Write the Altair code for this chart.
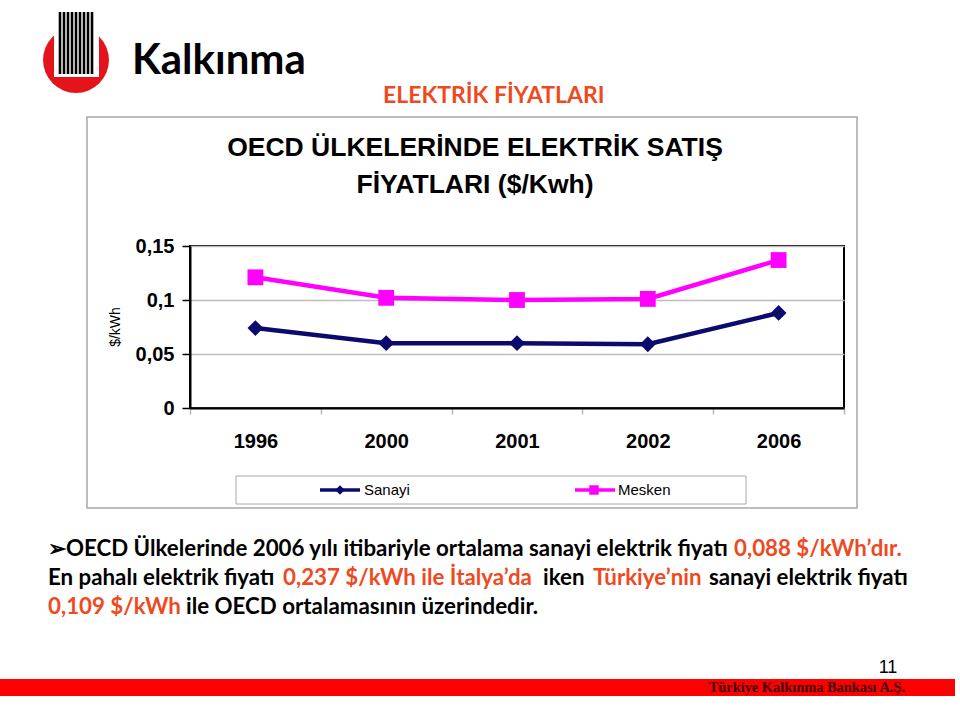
import altair as alt
import pandas as pd

# ---------------- data ----------------
years = ["1996", "2000", "2001", "2002", "2006"]
sanayi = [0.074, 0.060, 0.060, 0.059, 0.088]
mesken = [0.121, 0.102, 0.100, 0.101, 0.137]
series_names = ["Sanayi", "Mesken"]
series_colors = ["#0b0b6e", "#ff00ff"]
series_shapes = ["diamond", "square"]
y_ticks = [0, 0.05, 0.1, 0.15]

chart_title = ["OECD ÜLKELERİNDE ELEKTRİK SATIŞ", "FİYATLARI ($/Kwh)"]
y_title = "$/kWh"
logo_text = "Kalkınma"
slide_title = "ELEKTRİK FİYATLARI"
footer_text = "Türkiye Kalkınma Bankası A.Ş."
page_number = "11"
line1 = ["➢OECD Ülkelerinde 2006 yılı itibariyle ortalama sanayi elektrik fiyatı", "0,088 $/kWh’dır."]
line2 = ["En pahalı elektrik fiyatı", "0,237 $/kWh ile İtalya’da", "iken", "Türkiye’nin", "sanayi elektrik fiyatı"]
line3 = ["0,109 $/kWh", "ile OECD ortalamasının üzerindedir."]

RED_TXT = "#ef4a1f"
BLACK = "#000000"

rows = []
for name, vals in zip(series_names, [sanayi, mesken]):
    for yr, v in zip(years, vals):
        rows.append({"year": yr, "series": name, "value": v})
df = pd.DataFrame(rows)

one = [{"k": 1}]


def txt(text, x, y, size, color=BLACK, weight="normal", font="Liberation Sans",
        align="left", baseline="alphabetic", angle=0):
    return alt.Chart(alt.Data(values=[{"t": text}])).mark_text(
        align=align, baseline=baseline, fontSize=size, font=font,
        fontWeight=weight, color=color, angle=angle
    ).encode(x=alt.value(x), y=alt.value(y), text="t:N")


def box(x1, x2, y1, y2, **kw):
    return alt.Chart(alt.Data(values=one)).mark_rect(**kw).encode(
        x=alt.value(x1), x2=alt.value(x2), y=alt.value(y1), y2=alt.value(y2))


def rule(x1, x2, y1, y2, **kw):
    return alt.Chart(alt.Data(values=one)).mark_rule(**kw).encode(
        x=alt.value(x1), x2=alt.value(x2), y=alt.value(y1), y2=alt.value(y2))


def dot(x, y, **kw):
    return alt.Chart(alt.Data(values=one)).mark_point(**kw).encode(
        x=alt.value(x), y=alt.value(y))


W, H = 654, 162  # plot area; origin at page (190, 246)

xenc = alt.X("year:N", sort=years, bandPosition=0.5,
             scale=alt.Scale(type="band", paddingInner=0, paddingOuter=0),
             axis=alt.Axis(title=None, labelAngle=0, labelFontSize=20, labelFontWeight="bold",
                           labelFont="Liberation Sans", labelColor="black", labelPadding=17,
                           tickBand="extent", tickColor="#b5b5b5", tickSize=6, tickWidth=1.5,
                           domainColor="black", domainWidth=2, grid=False))
yenc = alt.Y("value:Q", scale=alt.Scale(domain=[0, 0.15], nice=False, zero=True),
             axis=alt.Axis(title=None, values=y_ticks,
                           labelExpr="replace(format(datum.value, '~g'), '.', ',')",
                           labelFontSize=20, labelFontWeight="bold", labelFont="Liberation Sans",
                           labelColor="black", labelPadding=8, tickSize=8, tickColor="black",
                           tickWidth=1.5, domainColor="black", domainWidth=2,
                           gridColor="#bdbdbd", gridWidth=1.3))
cenc = alt.Color("series:N", scale=alt.Scale(domain=series_names, range=series_colors), legend=None)
senc = alt.Shape("series:N", scale=alt.Scale(domain=series_names, range=series_shapes), legend=None)

base = alt.Chart(df).encode(x=xenc, y=yenc, color=cenc)
lines = base.mark_line(strokeWidth=4.5)
points = base.mark_point(filled=True, opacity=1, size=250).encode(shape=senc)

layers = []
# invisible page-sized rect that fixes the page bounds (960 x 716)
layers.append(box(-190, 770, -246, 470, fill="white", opacity=0))
# chart frame
layers.append(box(-103, 667, -129, 262, filled=False, stroke="#a8a8a8", strokeWidth=1.5, fillOpacity=0))

# logo
layers.append(dot(-114, -186, shape="circle", filled=True, size=4350, color="#e3141b", opacity=1))
layers.append(box(-136, -91, -236, -169, fill="white"))
for i in range(9):
    layers.append(rule(-130 + 4 * i, -130 + 4 * i, -234, -172, color="black", strokeWidth=2.6))
layers.append(txt(logo_text, -58, -172, 42, weight="bold", font="Lato"))

# slide title
layers.append(txt(slide_title, 193, -143, 23, color=RED_TXT, weight="bold", font="Lato"))

# chart title
layers.append(txt(chart_title[0], 285, -90, 26.5, weight="bold", align="center"))
layers.append(txt(chart_title[1], 285, -53, 26.5, weight="bold", align="center"))

# y title
layers.append(txt(y_title, -74, 81, 14, angle=270, align="center", baseline="middle"))

# legend
layers.append(box(46, 556, 230, 258, filled=False, stroke="#a8a8a8", strokeWidth=1, fillOpacity=0))
leg_pos = [(130, 170, 150, 174), (385, 425, 404, 428)]
for name, col, shp, (l1, l2, mx, tx) in zip(series_names, series_colors, series_shapes, leg_pos):
    layers.append(rule(l1, l2, 244, 244, color=col, strokeWidth=3.5))
    layers.append(dot(mx, 244, shape=shp, filled=True, size=90, color=col, opacity=1))
    layers.append(txt(name, tx, 244, 15, baseline="middle"))

# body text
FS = 22.3
layers.append(txt(line1[0], -142, 310, FS, weight="bold", font="Lato"))
layers.append(txt(line1[1], 544, 310, FS, color=RED_TXT, weight="bold", font="Lato"))
l2x = [-142, 93, 353, 403, 519]
l2c = [BLACK, RED_TXT, BLACK, RED_TXT, BLACK]
for s, x, c in zip(line2, l2x, l2c):
    layers.append(txt(s, x, 339, FS, color=c, weight="bold", font="Lato"))
layers.append(txt(line3[0], -142, 368, FS, color=RED_TXT, weight="bold", font="Lato"))
layers.append(txt(line3[1], -4, 368, FS, weight="bold", font="Lato"))

# footer
layers.append(box(-190, 765, 433, 450, fill="#ff0000"))
layers.append(txt(footer_text, 715, 442, 14.4, color="#3a0000", weight="bold",
                  font="Liberation Serif", align="right", baseline="middle"))
layers.append(txt(page_number, 698, 427, 18, align="center", baseline="alphabetic"))

chart = alt.layer(*layers, lines, points).properties(
    width=W, height=H, padding=0, background="white"
).configure_view(stroke="black", strokeWidth=2).resolve_scale(color="independent")

chart.save("out.html", embed_options={"renderer": "svg", "actions": False})
